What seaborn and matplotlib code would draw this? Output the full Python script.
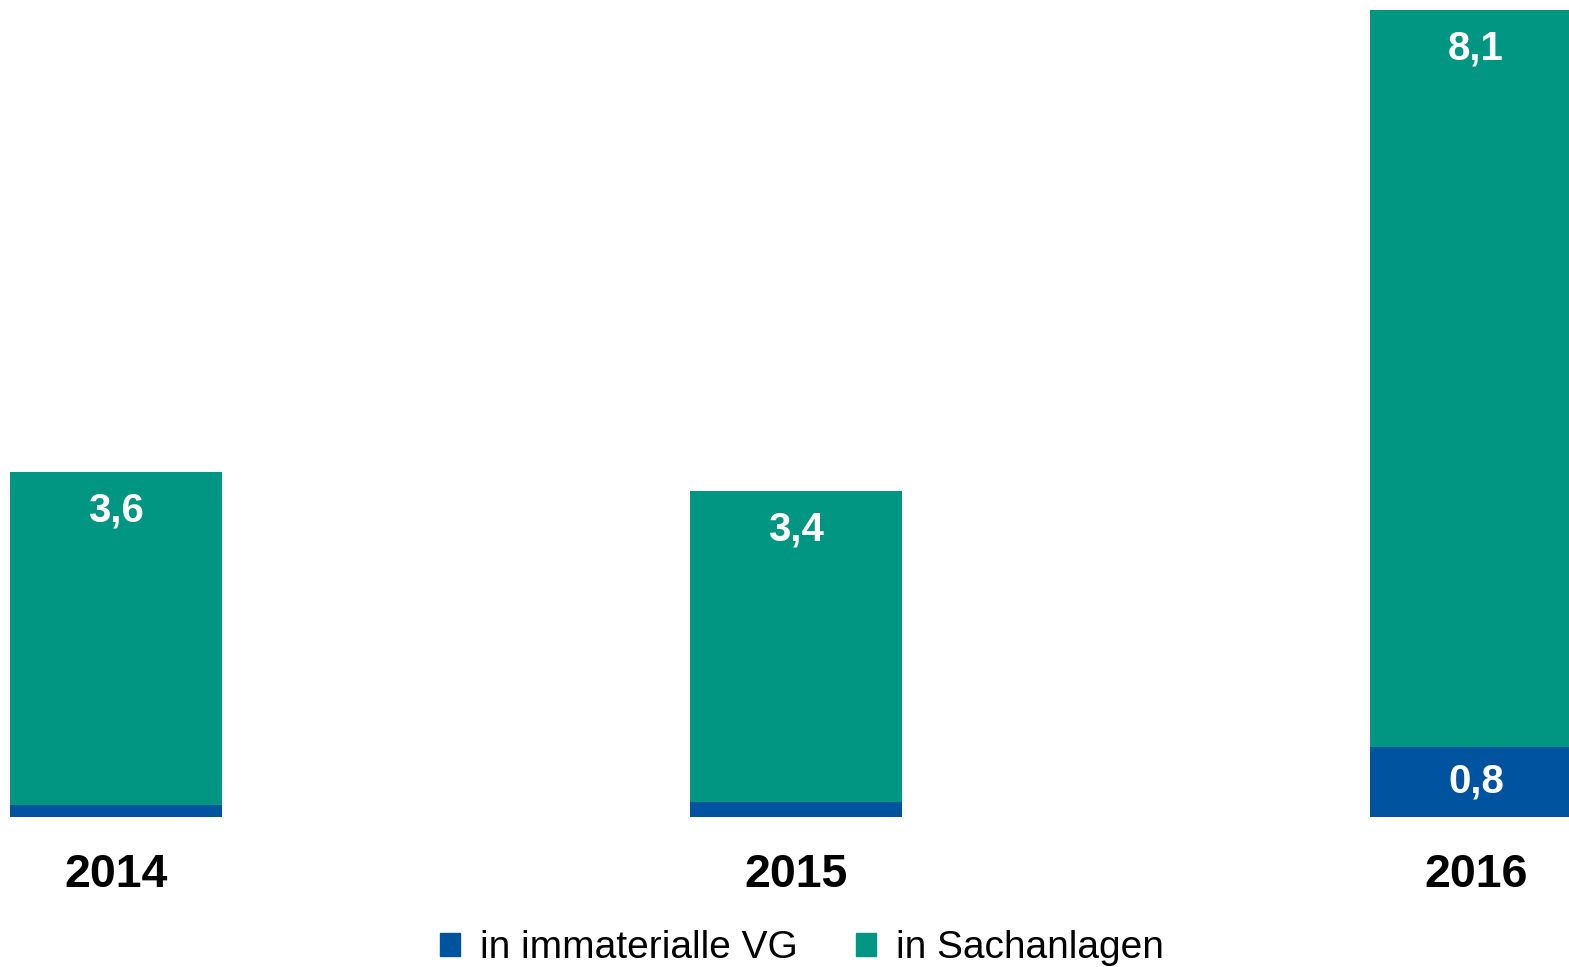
import numpy as np
import pandas as pd
import matplotlib
matplotlib.use("Agg")
import matplotlib.pyplot as plt
from matplotlib.patches import Patch
import seaborn as sns

years = ["2014", "2015", "2016"]
immaterielle = [0.13, 0.16, 0.77]
sachanlagen = [3.66, 3.42, 8.1]
label_immat = ["", "", "0,8"]
label_sach = ["3,6", "3,4", "8,1"]

BLUE = "#00539F"
GREEN = "#009681"

sns.set_theme(style="white")
plt.rcParams["font.family"] = ["Liberation Sans", "DejaVu Sans"]

df = pd.DataFrame({"year": years, "immat": immaterielle, "sach": sachanlagen})
df["total"] = df["immat"] + df["sach"]

fig = plt.figure(figsize=(15.69, 9.67), dpi=100)
ax = fig.add_axes([0, 1 - 817 / 967, 1, 817 / 967])

# stacked bars: total in green, blue part drawn over it
sns.barplot(data=df, x="year", y="total", color=GREEN, width=0.312,
            saturation=1, ax=ax, linewidth=0)
sns.barplot(data=df, x="year", y="immat", color=BLUE, width=0.312,
            saturation=1, ax=ax, linewidth=0)

ax.set_xlim(-116 / 680, (1569 - 116) / 680)
ax.set_ylim(0, 817 / 91)
ax.axis("off")

for i, row in df.iterrows():
    ax.annotate(label_sach[i], (i, row["total"]), xytext=(0, -27.5),
                textcoords="offset points", ha="center", va="center",
                color="white", fontsize=29, fontweight="bold")
    if label_immat[i]:
        ax.text(i, row["immat"] / 2, label_immat[i], ha="center", va="center",
                color="white", fontsize=29, fontweight="bold")
    ax.annotate(row["year"], (i, 0), xytext=(0, -41.5),
                textcoords="offset points", ha="center", va="center",
                color="black", fontsize=33.5, fontweight="bold",
                annotation_clip=False)

handles = [Patch(color=BLUE, label="in immaterialle VG"),
           Patch(color=GREEN, label="in Sachanlagen")]
leg = fig.legend(handles=handles, loc="center", bbox_to_anchor=(0.511, 1 - 948 / 967),
                 ncol=2, frameon=False, fontsize=28, handlelength=0.52,
                 handleheight=0.52, handletextpad=0.5, columnspacing=1.5)
for t in leg.get_texts():
    t.set_color("black")

fig.savefig("out.png", dpi=100)
